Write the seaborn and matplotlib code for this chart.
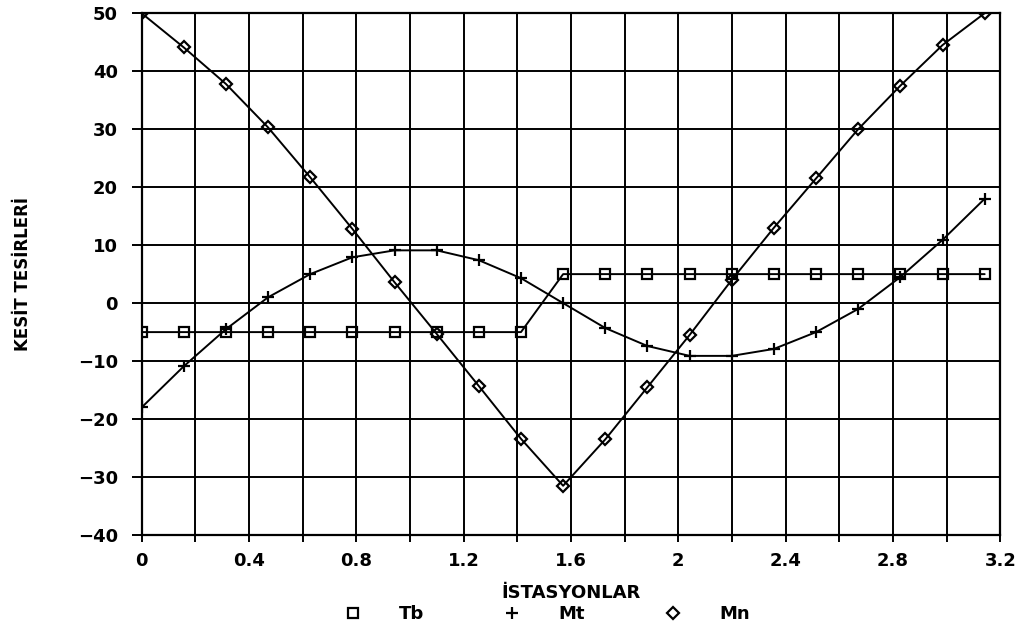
import numpy as np
import pandas as pd
import matplotlib
matplotlib.use("Agg")
import matplotlib.pyplot as plt
from matplotlib.lines import Line2D
from matplotlib.ticker import MultipleLocator
import seaborn as sns

# ---- data ----
istasyon = [i * np.pi / 20 for i in range(21)]
tb = [-5, -5, -5, -5, -5, -5, -5, -5, -5, -5, 5, 5, 5, 5, 5, 5, 5, 5, 5, 5, 5]
mt = [-18, -10.9, -4.5, 1, 5, 7.9, 9.1, 9.1, 7.4, 4.3, 0,
      -4.3, -7.4, -9.1, -9.1, -7.9, -5, -1, 4.5, 10.9, 18]
mn = [50, 44.1, 37.8, 30.3, 21.7, 12.8, 3.6, -5.3, -14.3, -23.4, -31.5,
      -23.5, -14.5, -5.5, 4, 13, 21.5, 30, 37.5, 44.5, 50]
series_names = ["Tb", "Mt", "Mn"]
x_ticks = [0, 0.4, 0.8, 1.2, 1.6, 2, 2.4, 2.8, 3.2]
x_ticklabels = ["0", "0.4", "0.8", "1.2", "1.6", "2", "2.4", "2.8", "3.2"]
x_label = "İSTASYONLAR"
y_label = "KESİT TESİRLERİ"

sns.set_style("white")
plt.rcParams["font.family"] = ["DejaVu Sans"]
plt.rcParams["text.color"] = "black"

fig = plt.figure(figsize=(10.26, 6.28), dpi=100)
ax = fig.add_axes([0.138, 0.148, 0.837, 0.831])

markers = {"Tb": "s", "Mt": "+", "Mn": "D"}
msizes = {"Tb": 7, "Mt": 9, "Mn": 6}
for name, vals in zip(series_names, [tb, mt, mn]):
    df = pd.DataFrame({"x": istasyon, "y": vals})
    sns.lineplot(data=df, x="x", y="y", ax=ax, color="black", linewidth=1.4,
                 marker=markers[name], markersize=msizes[name],
                 markerfacecolor="none", markeredgecolor="black",
                 markeredgewidth=1.6, sort=False, zorder=3)

ax.set_xlim(0, 3.2)
ax.set_ylim(-40, 50)
ax.xaxis.set_minor_locator(MultipleLocator(0.2))
ax.yaxis.set_major_locator(MultipleLocator(10))
ax.set_xticks(x_ticks)
ax.set_xticklabels(x_ticklabels)
ax.grid(which="both", color="black", linewidth=1.4)
ax.set_axisbelow(True)
for s in ax.spines.values():
    s.set_color("black")
    s.set_linewidth(1.6)
ax.tick_params(axis="x", which="both", direction="out", length=5, width=1.4,
               colors="black", labelsize=13, pad=7.5, bottom=True)
ax.tick_params(axis="y", which="both", direction="out", length=7, width=1.4,
               colors="black", labelsize=13, pad=10, left=True)
for lbl in ax.get_xticklabels() + ax.get_yticklabels():
    lbl.set_fontweight("bold")

ax.set_xlabel(x_label, fontsize=13, fontweight="bold", color="black")
ax.xaxis.set_label_coords(0.5, -0.111)
ax.xaxis.label.set_va("center")
ax.set_ylabel(y_label, fontsize=12, fontweight="bold", color="black",
              labelpad=33)

handles = [Line2D([], [], linestyle="none", marker=markers[n], color="black",
                  markerfacecolor="none", markeredgewidth=1.6,
                  markersize=msizes[n]) for n in series_names]
fig.legend(handles, series_names, loc="center", ncol=3, frameon=False,
           bbox_to_anchor=(0.533, 0.0223), columnspacing=4.4,
           handlelength=1.0, handletextpad=2.05,
           prop={"size": 13, "weight": "bold"}, labelcolor="black")

fig.savefig("out.png", dpi=100)
